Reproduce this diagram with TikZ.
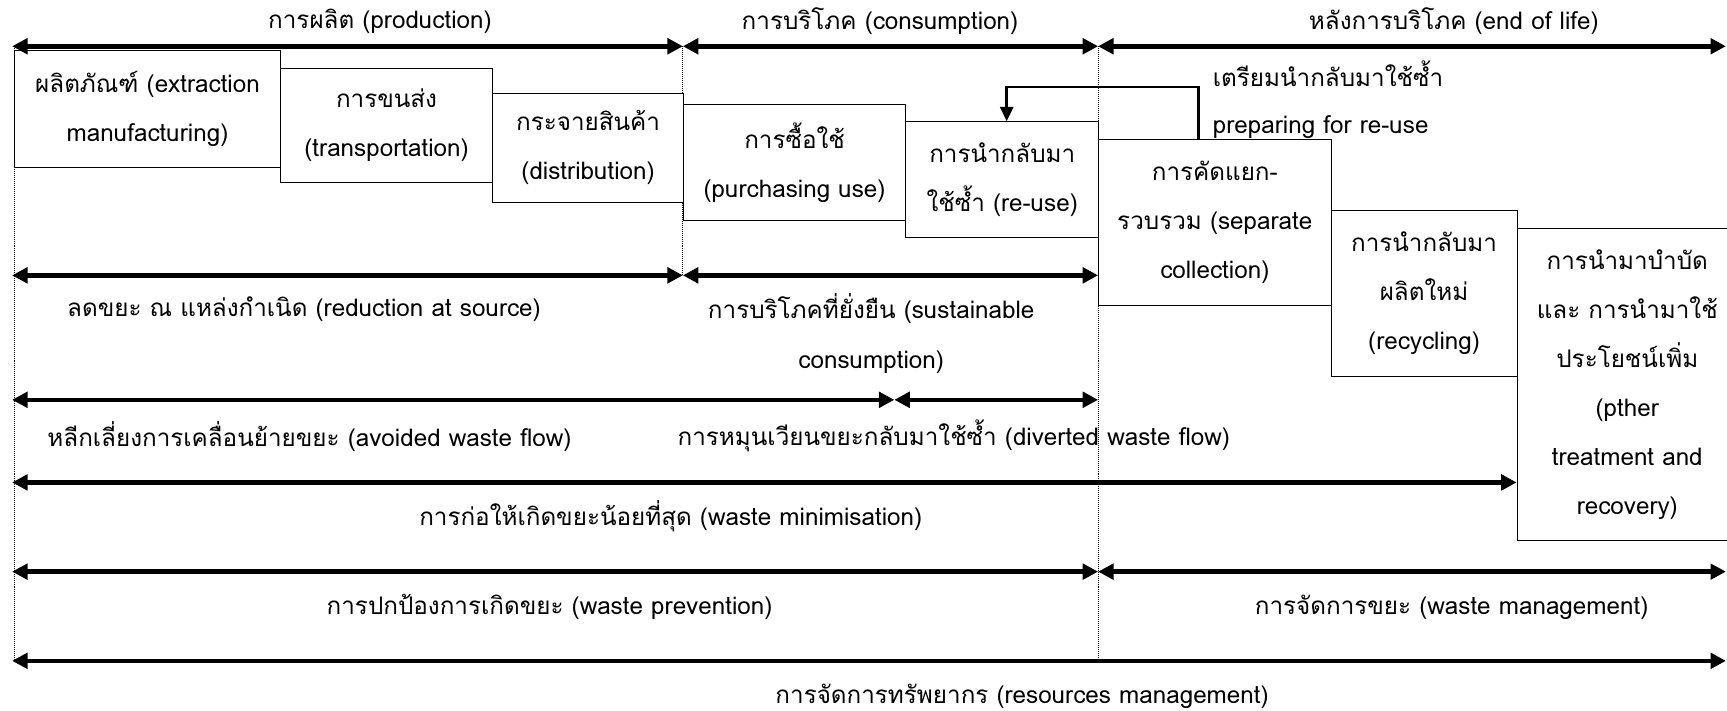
\documentclass[tikz,border=0pt]{standalone}
\usepackage{fontspec}
\setmainfont[Script=Thai]{Loma}
\usetikzlibrary{arrows.meta}

\tikzset{
  span/.style={line width=4.2pt,
    {Triangle[length=14pt,width=14pt]}-{Triangle[length=14pt,width=14pt]}},
  guide/.style={densely dotted, line width=0.8pt},
  stagebox/.style={draw, line width=0.9pt, fill=white, anchor=north west,
    align=center, inner sep=0pt, font=\fontsize{22}{44.5}\selectfont},
  lbl/.style={inner sep=0pt, align=center, font=\fontsize{22}{46}\selectfont},
  reuse/.style={line width=2.4pt, -{Triangle[length=13pt,width=12pt]}},
}

\begin{document}
\begin{tikzpicture}[x=1pt, y=-1pt]
  \useasboundingbox (0,0) rectangle (1568,645);

  % column guides
  \coordinate (ga) at (13,42);   \coordinate (gaE) at (13,600);
  \coordinate (gb) at (620,42);  \coordinate (gbE) at (620,250);
  \coordinate (gc) at (997,42);  \coordinate (gcE) at (997,600);
  \draw[guide] (ga) -- (gaE);
  \draw[guide] (gb) -- (gbE);
  \draw[guide] (gc) -- (gcE);

  % life-cycle stages
  \node[stagebox, minimum width=241pt, minimum height=107pt] (b1) at (13,45)
    {ผลิตภัณฑ์ (extraction\\manufacturing)};
  \node[stagebox, minimum width=193pt, minimum height=103pt] (b2) at (254,62)
    {การขนส่ง\\(transportation)};
  \node[stagebox, minimum width=173pt, minimum height=99pt] (b3) at (447,84)
    {กระจายสินค้า\\(distribution)};
  \node[stagebox, minimum width=202pt, minimum height=106pt] (b4) at (620,94)
    {การซื้อใช้\\(purchasing use)};
  \node[stagebox, minimum width=175pt, minimum height=105pt] (b5) at (822,110)
    {การนำกลับมา\\ใช้ซ้ำ (re-use)};
  \node[stagebox, minimum width=211pt, minimum height=151pt] (b6) at (997,126)
    {การคัดแยก-\\รวบรวม (separate\\collection)};
  \node[stagebox, minimum width=169pt, minimum height=150pt] (b7) at (1208,191)
    {การนำกลับมา\\ผลิตใหม่\\(recycling)};
  \node[stagebox, minimum width=200pt, minimum height=283pt, text width=190pt] (b8) at (1377,207)
    {การนำมาบำบัด\\และ การนำมาใช้\\ประโยชน์เพิ่ม\\(pther\\treatment and\\recovery)};

  % preparing for re-use loop
  \draw[reuse] ([xshift=91pt]b6.north west) -- ++(0,-47) -| ([xshift=92pt]b5.north west);
  \node[lbl, align=left, anchor=north west, font=\fontsize{22}{43}\selectfont] (prep) at (1101,55)
    {เตรียมนำกลับมาใช้ซ้ำ\\preparing for re-use};

  % span end points
  \coordinate (r1a) at (11,42);  \coordinate (r1b) at (620,42);
  \coordinate (r1c) at (997,42); \coordinate (r1d) at (1567,42);
  \coordinate (r2a) at (11,250); \coordinate (r2b) at (620,250);
  \coordinate (r2c) at (997,250);
  \coordinate (r3a) at (11,363); \coordinate (r3b) at (812,363);
  \coordinate (r3c) at (997,363);
  \coordinate (r4a) at (11,438); \coordinate (r4b) at (1377,438);
  \coordinate (r5a) at (11,519); \coordinate (r5b) at (997,519);
  \coordinate (r5c) at (1567,519);
  \coordinate (r6a) at (11,600); \coordinate (r6b) at (1567,600);

  \draw[span] (r1a) -- (r1b);
  \draw[span] (r1b) -- (r1c);
  \draw[span] (r1c) -- (r1d);
  \draw[span] (r2a) -- (r2b);
  \draw[span] (r2b) -- (r2c);
  \draw[span] (r3a) -- (r3b);
  \draw[span] (r3b) -- (r3c);
  \draw[span] (r4a) -- (r4b);
  \draw[span] (r5a) -- (r5b);
  \draw[span] (r5b) -- (r5c);
  \draw[span] (r6a) -- (r6b);

  % span labels
  \node[lbl] (t1a) at (345,19) {การผลิต (production)};
  \node[lbl] (t1b) at (799,19) {การบริโภค (consumption)};
  \node[lbl] (t1c) at (1320,19) {หลังการบริโภค (end of life)};
  \node[lbl] (t2a) at (276,281) {ลดขยะ ณ แหล่งกำเนิด (reduction at source)};
  \node[lbl, anchor=north] (t2b) at (791,266) {การบริโภคที่ยั่งยืน (sustainable\\consumption)};
  \node[lbl] (t3a) at (281,396) {หลีกเลี่ยงการเคลื่อนย้ายขยะ (avoided waste flow)};
  \node[lbl] (t3b) at (866,396) {การหมุนเวียนขยะกลับมาใช้ซ้ำ (diverted waste flow)};
  \node[lbl] (t4) at (609,469) {การก่อให้เกิดขยะน้อยที่สุด (waste minimisation)};
  \node[lbl] (t5a) at (499,551) {การปกป้องการเกิดขยะ (waste prevention)};
  \node[lbl] (t5b) at (1318,551) {การจัดการขยะ (waste management)};
  \node[lbl] (t6) at (928,632) {การจัดการทรัพยากร (resources management)};
\end{tikzpicture}
\end{document}
